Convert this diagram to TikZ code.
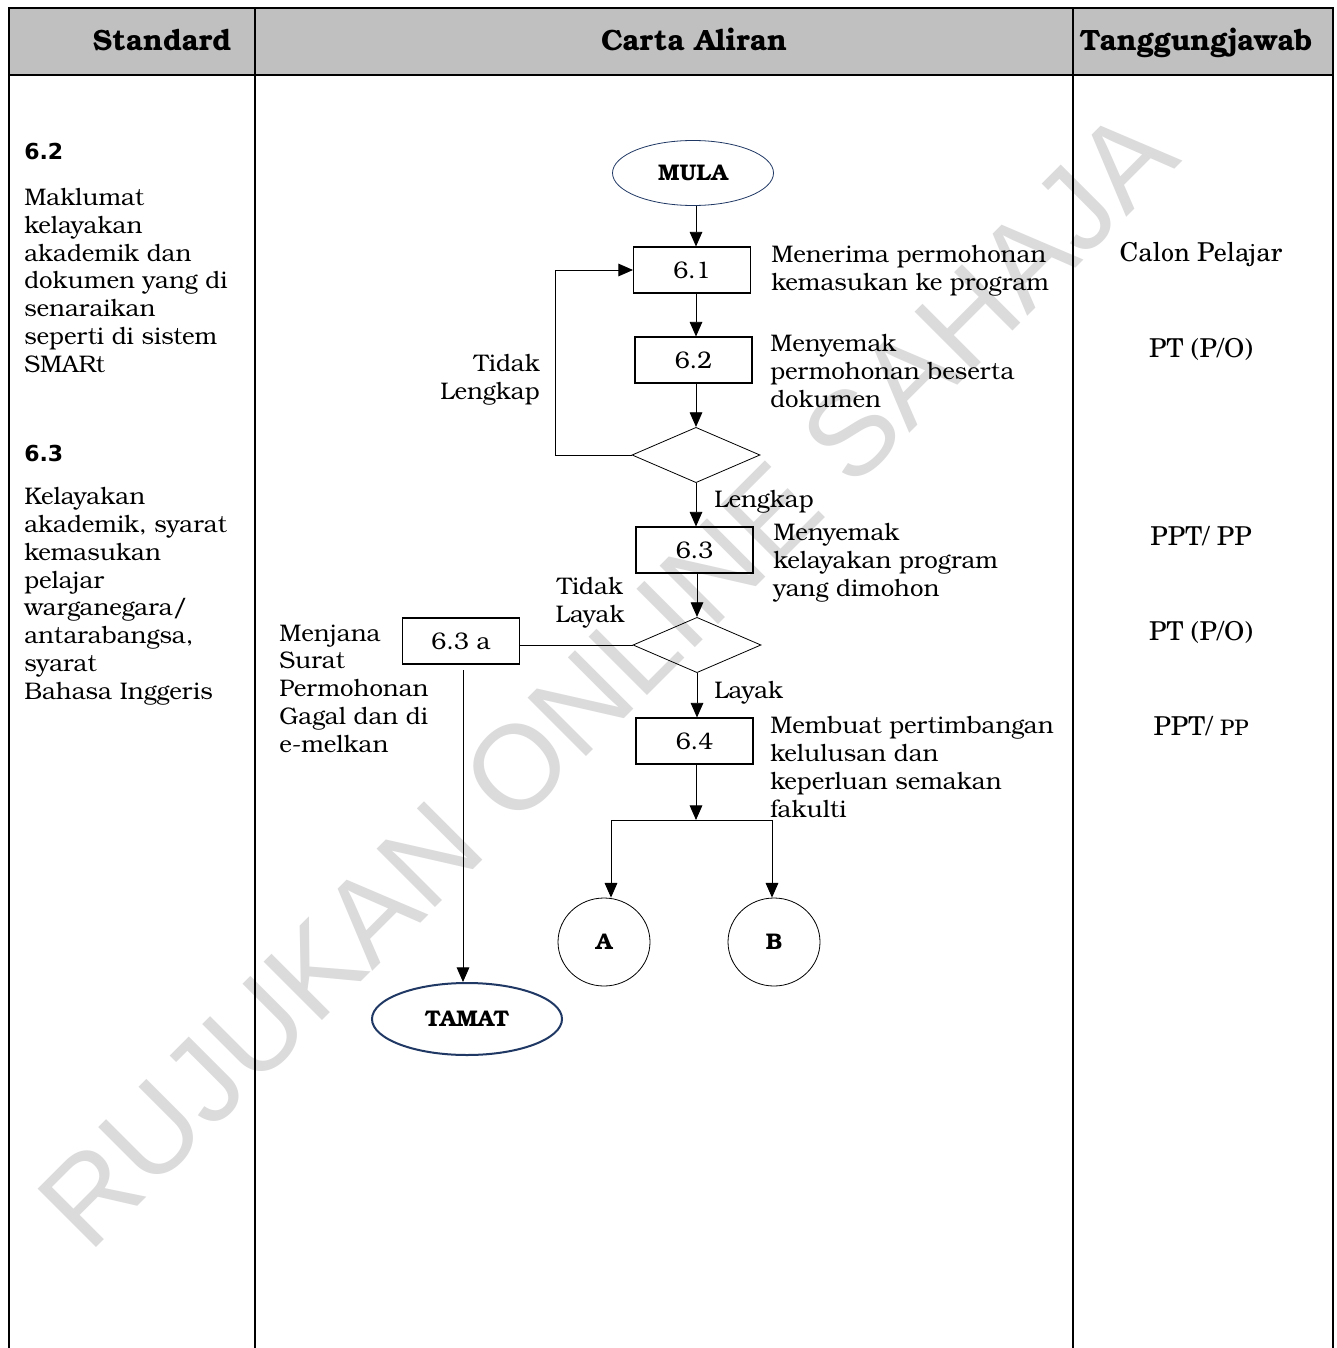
\documentclass[tikz,border=0pt]{standalone}
\usepackage{fontspec}
\setmainfont{texgyrebonum}[Extension=.otf, UprightFont=*-regular, BoldFont=*-bold, ItalicFont=*-italic, BoldItalicFont=*-bolditalic]
\newfontfamily\scholafont{texgyreschola}[Extension=.otf, UprightFont=*-regular, BoldFont=*-bold, ItalicFont=*-italic, BoldItalicFont=*-bolditalic]
\newfontfamily\verdfont{DejaVu Sans}
\newfontfamily\wmfont{Liberation Sans}
\usetikzlibrary{shapes.geometric, arrows.meta}
\definecolor{hdr}{HTML}{C0C0C0}
\definecolor{navy}{HTML}{1F3864}
\definecolor{wmgrey}{HTML}{DBDBDB}
\begin{document}
\begin{tikzpicture}[x=0.75pt,y=-0.75pt,
  bodyfont/.style={font=\fontsize{18}{20.8}\selectfont},
  txt/.style={bodyfont, inner sep=0pt, align=left, anchor=base west},
  rtxt/.style={font=\scholafont\fontsize{19.5}{22}\selectfont, inner sep=0pt, anchor=base},
  hdrtxt/.style={font=\bfseries\fontsize{22}{24}\selectfont, inner sep=0pt, anchor=base},
  numtxt/.style={font=\verdfont\bfseries\fontsize{16.5}{18}\selectfont, inner sep=0pt, anchor=base west},
  proc/.style={draw, line width=0.8pt, minimum width=87.75pt, minimum height=34.5pt, inner sep=0pt, bodyfont},
  dec/.style={draw, diamond, line width=0.6pt, minimum width=96pt, minimum height=41.5pt, inner sep=0pt},
  term/.style={draw=navy, ellipse, inner sep=0pt, font=\bfseries\fontsize{17}{20}\selectfont},
  conn/.style={draw, ellipse, line width=0.6pt, minimum width=69pt, minimum height=66pt, inner sep=0pt, font=\bfseries\fontsize{17}{20}\selectfont},
  flow/.style={line width=0.7pt},
  arr/.style={flow, -{Triangle[length=11pt,width=9.5pt]}},
  tline/.style={line width=1.5pt}
]
\useasboundingbox (0,0) rectangle (1336,1348);
\fill[white] (0,0) rectangle (1336,1348);
% watermark
\node[font=\wmfont\fontsize{90}{100}\selectfont, text=wmgrey, rotate=45, inner sep=0pt] (wm) at (607,678) {RUJUKAN ONLINE SAHAJA};
% table
\fill[hdr] (9,8) rectangle (1333,75);
\draw[tline] (9,1348) -- (9,8) -- (1333,8) -- (1333,1348);
\draw[tline] (9,75) -- (1333,75);
\draw[tline] (255,8) -- (255,1348);
\draw[tline] (1073,8) -- (1073,1348);
\node[hdrtxt] (hstd) at (162,51) {Standard};
\node[hdrtxt] (hcarta) at (694,51) {Carta Aliran};
\node[hdrtxt] (htg) at (1196,51) {Tanggungjawab};
% left column
\node[numtxt] (n62) at (24,160) {6.2};
\node[txt] (s62) at (24,372) {Maklumat\\kelayakan\\akademik dan\\dokumen yang di\\senaraikan\\seperti di sistem\\SMARt};
\node[numtxt] (n63) at (24,461) {6.3};
\node[txt] (s63) at (24,699) {Kelayakan\\akademik, syarat\\kemasukan\\pelajar\\warganegara/\\antarabangsa,\\syarat\\Bahasa Inggeris};
% right column
\node[rtxt] (r1) at (1201,262) {Calon Pelajar};
\node[rtxt] (r2) at (1201,357) {PT (P/O)};
\node[rtxt] (r3) at (1201,545) {PPT/ PP};
\node[rtxt] (r4) at (1201,640) {PT (P/O)};
\node[rtxt] (r5) at (1201,735) {PPT/ {\fontsize{16}{20}\selectfont PP}};
% flow nodes
\node[term, line width=0.6pt, minimum width=120.75pt, minimum height=48.75pt] (mula) at (693,173) {MULA};
\node[proc] (p61) at (692,270) {6.1};
\node[proc] (p62) at (693.5,360) {6.2};
\node[dec] (d1) at (696,455) {};
\node[proc] (p63) at (694.5,550) {6.3};
\node[dec] (d2) at (697,645) {};
\node[proc] (p64) at (694.5,741) {6.4};
\node[proc] (p63a) at (461,641) {6.3 a};
\node[term, line width=1.5pt, minimum width=142.5pt, minimum height=54pt] (tamat) at (467,1019) {TAMAT};
\node[conn] (cA) at (604,942) {A};
\node[conn] (cB) at (774,942) {B};
% flow texts (anchor = baseline of last line)
\node[txt] (t61) at (771,290) {Menerima permohonan\\kemasukan ke program};
\node[txt] (t62) at (770,407) {Menyemak\\permohonan beserta\\dokumen};
\node[txt, align=right, anchor=base east] (ttl) at (540,399) {Tidak\\Lengkap};
\node[txt] (tlk) at (714,507) {Lengkap};
\node[txt] (t63) at (773,596) {Menyemak\\kelayakan program\\yang dimohon};
\node[txt, align=center, anchor=base] (ttly) at (590,622) {Tidak\\Layak};
\node[txt] (tly) at (714,698) {Layak};
\node[txt] (t64) at (770,817) {Membuat pertimbangan\\kelulusan dan\\keperluan semakan\\fakulti};
\node[txt] (t63a) at (279,752) {Menjana\\Surat\\Permohonan\\Gagal dan di\\e-melkan};
% connectors
\coordinate (v0) at (463,670);
\coordinate (br) at (696,820);
\coordinate (brl) at (611,820);
\coordinate (brr) at (772,820);
\draw[arr] (mula.south -| d1.north) -- (p61.north -| d1.north);
\draw[arr] (p61.south -| d1.north) -- (p62.north -| d1.north);
\draw[arr] (p62.south -| d1.north) -- (d1.north);
\draw[arr] (d1.west) -- ++(-76,0) |- (p61.west);
\draw[arr] (d1.south) -- (p63.north -| d1.south);
\draw[arr] (p63.south -| d2.north) -- (d2.north);
\draw[arr] (d2.south) -- (p64.north -| d2.south);
\draw[flow] (d2.west) -- (d2.west -| p63a.east);
\draw[arr] (v0) -- (v0 |- tamat.north);
\draw[arr] (p64.south -| br) -- (br);
\draw[flow] (brl) -- (brr);
\draw[arr] (brl) -- (brl |- cA.north);
\draw[arr] (brr) -- (brr |- cB.north);
\end{tikzpicture}
\end{document}
